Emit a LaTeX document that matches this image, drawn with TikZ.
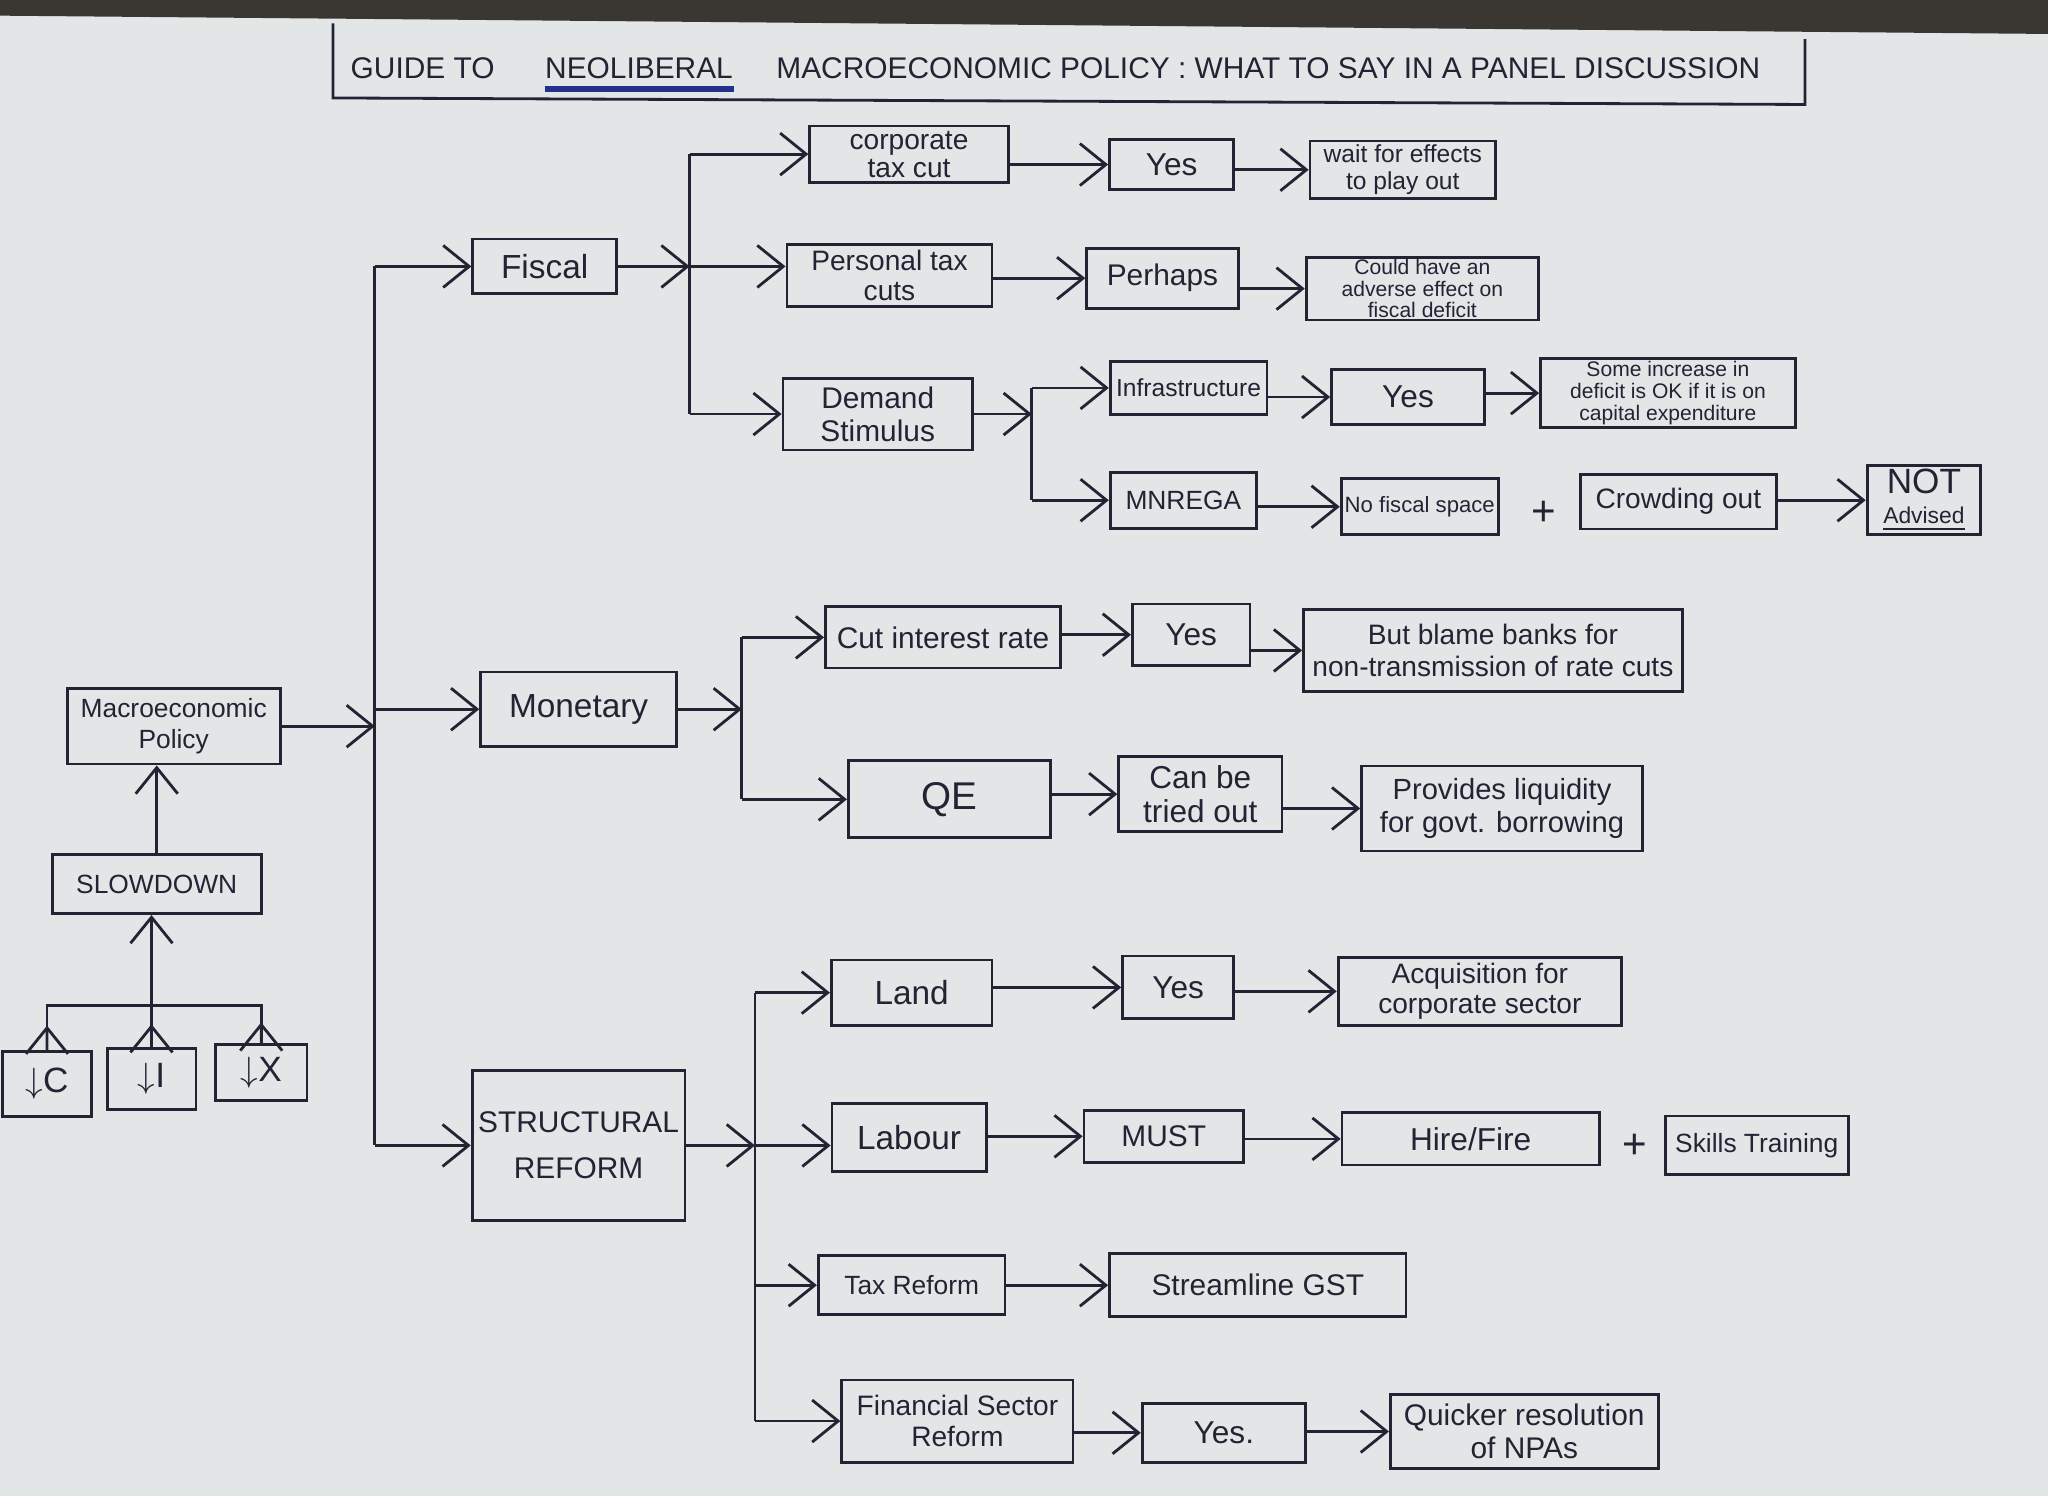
\documentclass[tikz,border=0pt]{standalone}
\usepackage{fontspec}
\setmainfont{Liberation Sans}
\usepackage{xcolor}
\usepackage{tikz}
\usetikzlibrary{positioning,arrows.meta,calc}
\definecolor{ink}{RGB}{35,35,52}
\definecolor{inkblue}{RGB}{38,48,140}
\definecolor{paper}{RGB}{226,230,231}
\definecolor{desk}{RGB}{58,54,50}
\def\upx{0.01306cm}
\newcommand\fsz[2]{\fontsize{#1}{#2}\selectfont}
\tikzset{
  card/.style={draw=ink, line width=0.8pt, text=ink, align=center, inner sep=1pt, font=\fsz{8}{8.5}},
  sz/.style 2 args={minimum width=#1*\upx, minimum height=#2*\upx},
  ttl/.style={text=ink, font=\fsz{8.5}{8.5}, inner sep=0pt},
  wire/.style={line width=0.8pt, draw=ink},
  arr/.style={-{Straight Barb[length=2.6mm,width=4.2mm]}, line width=0.8pt, draw=ink},
}
\begin{document}
\begin{tikzpicture}[x=0.01306cm, y=-0.01306cm]
    \useasboundingbox (0,0) rectangle (1568,1145);
    \fill[paper] (0,0) rectangle (1568,1145);
    \fill[desk] (0,0) -- (1568,0) -- (1568,26) -- (0,12) -- cycle;

    \node[ttl, anchor=base west] (tguide) at (268,60) {GUIDE TO};
    \node[ttl, base right=14pt of tguide] (tneo) {NEOLIBERAL};
    \node[ttl, base right=12pt of tneo] (trest) {MACROECONOMIC POLICY : WHAT TO SAY IN A PANEL DISCUSSION};
    \draw[inkblue, line width=1.6pt] ([yshift=-3pt]tneo.base west) -- ([yshift=-3pt]tneo.base east);
    \draw[wire] (255,18) -- (255,75) -- (1382,80) -- (1382,30);

    \node[card, sz={163}{58}, font=\fsz{7.5}{9}] (macro) at (133,556) {Macroeconomic\\Policy};
    \node[card, sz={160}{45}, font=\fsz{7.5}{8}] (slow) at (120,677) {SLOWDOWN};
    \node[card, sz={68}{50}, font=\fsz{10}{10}] (dc) at (36,830) {$\downarrow$C};
    \node[card, sz={68}{47}, font=\fsz{10}{10}] (di) at (116,826) {$\downarrow$I};
    \node[card, sz={70}{43}, font=\fsz{10}{10}] (dx) at (200,821) {$\downarrow$X};
    \coordinate (brk) at (0,770);
    \draw[wire] (dc.north) -- (dc.north |- brk) -- (dx.north |- brk) -- (dx.north);
    \draw[arr] (dc.north) -- ($(dc.north)!0.55!(dc.north |- brk)$);
    \draw[arr] (di.north) -- ($(di.north)!0.55!(di.north |- brk)$);
    \draw[arr] (dx.north) -- ($(dx.north)!0.55!(dx.north |- brk)$);
    \draw[arr] (di.north) -- (di.north |- slow.south);
    \draw[arr] (slow.north) -- (slow.north |- macro.south);

    \node[card, sz={110}{42}, font=\fsz{9.5}{10}] (fiscal) at (417,204) {Fiscal};
    \node[card, sz={150}{57}, font=\fsz{9.5}{10}] (monet) at (443,543) {Monetary};
    \node[card, sz={163}{115}, font=\fsz{8.5}{13}] (struct) at (443,877) {STRUCTURAL\\REFORM};
    \coordinate (trunk) at (287,0);
    \draw[arr] (macro.east) -- (macro.east -| trunk);
    \draw[wire] (trunk |- fiscal) -- (trunk |- struct);
    \draw[arr] (trunk |- fiscal) -- (fiscal.west);
    \draw[arr] (trunk |- monet) -- (monet.west);
    \draw[arr] (trunk |- struct) -- (struct.west);

    \node[card, sz={152}{43}, font=\fsz{8}{8}] (corp) at (696,118) {corporate\\tax cut};
    \node[card, sz={157}{47}, font=\fsz{8}{8.5}] (ptax) at (681,211) {Personal tax\\cuts};
    \node[card, sz={145}{55}, font=\fsz{8.5}{9.3}] (dem) at (672,317) {Demand\\Stimulus};
    \coordinate (fb) at (528,0);
    \draw[arr] (fiscal.east) -- (fiscal.east -| fb);
    \draw[wire] (fb |- corp) -- (fb |- dem);
    \draw[arr] (fb |- corp) -- (corp.west);
    \draw[arr] (fb |- fiscal) -- (ptax.west |- fiscal);
    \draw[arr] (fb |- dem) -- (dem.west);

    \node[card, sz={95}{38}, font=\fsz{9}{9}] (yesa) at (897,126) {Yes};
    \node[card, sz={142}{44}, font=\fsz{7}{7.5}] (wait) at (1074,130) {wait for effects\\to play out};
    \draw[arr] (corp.east |- yesa) -- (yesa.west);
    \draw[arr] (yesa.east |- wait) -- (wait.west);

    \node[card, sz={116}{46}, font=\fsz{8.5}{9}] (perh) at (890,213) {Perhaps};
    \node[card, sz={178}{48}, font=\fsz{6}{6.2}, inner sep=0.5pt] (could) at (1089,221) {Could have an\\adverse effect on\\fiscal deficit};
    \draw[arr] (ptax.east |- perh) -- (perh.west);
    \draw[arr] (perh.east |- could) -- (could.west);

    \node[card, sz={120}{41}, font=\fsz{7}{7}] (infra) at (910,297) {Infrastructure};
    \node[card, sz={117}{42}, font=\fsz{9}{9}] (yesb) at (1078,304) {Yes};
    \node[card, sz={195}{53}, font=\fsz{6}{6.2}, inner sep=0.5pt] (some) at (1277,301) {Some increase in\\deficit is OK if it is on\\capital expenditure};
    \node[card, sz={112}{43}, font=\fsz{7.5}{8}] (mnr) at (906,383) {MNREGA};
    \node[card, sz={120}{43}, font=\fsz{6.3}{7}] (nofs) at (1087,388) {No fiscal space};
    \node[text=ink, font=\fsz{12}{12}] (plusa) at (1182,393) {+};
    \node[card, sz={150}{42}, font=\fsz{8}{8}] (crowd) at (1285,384) {Crowding out};
    \node[card, sz={87}{43}] (notadv) at (1473,383) {{\fsz{10}{10}NOT}\\{\fsz{6.5}{7}\underline{Advised}}};
    \coordinate (db) at (790,0);
    \draw[arr] (dem.east) -- (dem.east -| db);
    \draw[wire] (db |- infra) -- (db |- mnr);
    \draw[arr] (db |- infra) -- (infra.west);
    \draw[arr] (db |- mnr) -- (mnr.west);
    \draw[arr] (infra.east |- yesb) -- (yesb.west);
    \draw[arr] (yesb.east |- some) -- (some.west);
    \draw[arr] (mnr.east |- nofs) -- (nofs.west);
    \draw[arr] (crowd.east |- notadv) -- (notadv.west);

    \node[card, sz={180}{47}, font=\fsz{8.5}{9}] (cut) at (722,488) {Cut interest rate};
    \node[card, sz={90}{47}, font=\fsz{9}{9}] (yesc) at (912,486) {Yes};
    \node[card, sz={290}{63}, font=\fsz{8}{9.3}] (blame) at (1143,498) {But blame banks for\\non-transmission of rate cuts};
    \node[card, sz={155}{59}, font=\fsz{11}{11}] (qe) at (727,612) {QE};
    \node[card, sz={125}{57}, font=\fsz{9}{9.5}] (canbe) at (919,608) {Can be\\tried out};
    \node[card, sz={215}{65}, font=\fsz{8.3}{9.3}] (prov) at (1150,619) {Provides liquidity\\for govt. borrowing};
    \coordinate (mb) at (568,0);
    \draw[arr] (monet.east) -- (monet.east -| mb);
    \draw[wire] (mb |- cut) -- (mb |- qe);
    \draw[arr] (mb |- cut) -- (cut.west);
    \draw[arr] (mb |- qe) -- (qe.west);
    \draw[arr] (cut.east |- yesc) -- (yesc.west);
    \draw[arr] (yesc.east |- blame) -- (blame.west);
    \draw[arr] (qe.east |- canbe) -- (canbe.west);
    \draw[arr] (canbe.east |- prov) -- (prov.west);

    \node[card, sz={123}{50}, font=\fsz{9.5}{10}] (land) at (698,760) {Land};
    \node[card, sz={85}{48}, font=\fsz{9}{9}] (yesd) at (902,756) {Yes};
    \node[card, sz={217}{52}, font=\fsz{8}{8.5}] (acq) at (1133,759) {Acquisition for\\corporate sector};
    \node[card, sz={118}{52}, font=\fsz{9.5}{10}] (lab) at (696,871) {Labour};
    \node[card, sz={122}{40}, font=\fsz{8.5}{9}] (must) at (891,870) {MUST};
    \node[card, sz={197}{40}, font=\fsz{9}{9}] (hire) at (1126,872) {Hire/Fire};
    \node[text=ink, font=\fsz{12}{12}] (plusb) at (1252,878) {+};
    \node[card, sz={140}{45}, font=\fsz{7.5}{8}] (skill) at (1345,877) {Skills Training};
    \node[card, sz={143}{45}, font=\fsz{7.5}{8}] (taxr) at (698,984) {Tax Reform};
    \node[card, sz={227}{48}, font=\fsz{8.5}{9}] (gst) at (963,984) {Streamline GST};
    \node[card, sz={177}{63}, font=\fsz{8}{8.8}] (fin) at (733,1088) {Financial Sector\\Reform};
    \node[card, sz={125}{45}, font=\fsz{9}{9}] (yese) at (937,1097) {Yes.};
    \node[card, sz={205}{57}, font=\fsz{8.5}{9.3}] (quick) at (1167,1096) {Quicker resolution\\of NPAs};
    \coordinate (sb) at (578,0);
    \draw[arr] (struct.east) -- (struct.east -| sb);
    \draw[wire] (sb |- land) -- (sb |- fin);
    \draw[arr] (sb |- land) -- (land.west);
    \draw[arr] (sb |- struct) -- (lab.west |- struct);
    \draw[arr] (sb |- taxr) -- (taxr.west);
    \draw[arr] (sb |- fin) -- (fin.west);
    \draw[arr] (land.east |- yesd) -- (yesd.west);
    \draw[arr] (yesd.east |- acq) -- (acq.west);
    \draw[arr] (lab.east |- must) -- (must.west);
    \draw[arr] (must.east |- hire) -- (hire.west);
    \draw[arr] (taxr.east |- gst) -- (gst.west);
    \draw[arr] (fin.east |- yese) -- (yese.west);
    \draw[arr] (yese.east |- quick) -- (quick.west);
  \end{tikzpicture}
\end{document}
